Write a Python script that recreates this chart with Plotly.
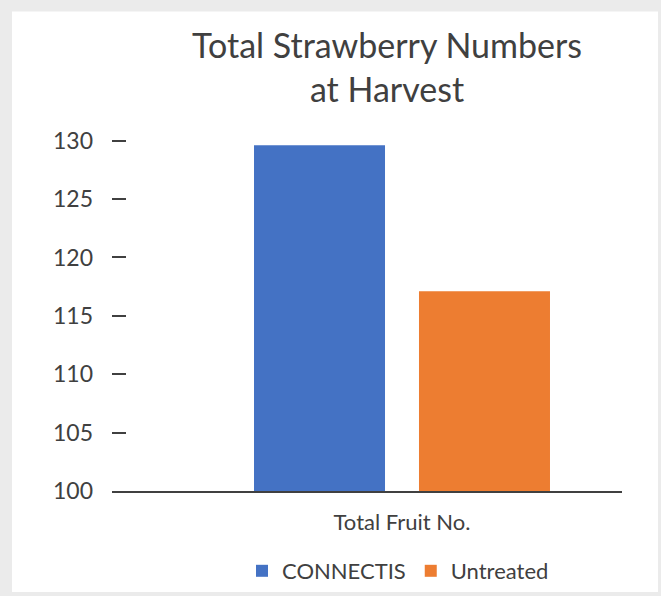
import plotly.graph_objects as go

categories = ["Total Fruit No."]
series_names = ["CONNECTIS", "Untreated"]
connectis = [129.6]
untreated = [117.1]
y_ticks = [100, 105, 110, 115, 120, 125, 130]
colors = ["#4472C4", "#ED7D31"]

W, H = 661, 596
Y_MAX = 131
L, R, B = 112, 39, 105
T = 491 - 350 * (Y_MAX - 100) / 30
FONT = "Lato"
TXT = "#404040"

fig = go.Figure()
for name, vals, col in zip(series_names, [connectis, untreated], colors):
    fig.add_trace(go.Bar(x=categories, y=vals, name=name, marker_color=col,
                         marker_line_width=0))

pw = W - L - R
ph = H - T - B
# white card over light gray border
fig.add_shape(type="rect", xref="paper", yref="paper",
              x0=(12 - L) / pw, x1=(658 - L) / pw,
              y0=(H - B - 592) / ph, y1=(H - B - 12) / ph,
              fillcolor="white", line_width=0, layer="below")

fig.update_layout(
    width=W, height=H,
    margin=dict(l=L, r=R, t=T, b=B, pad=0),
    paper_bgcolor="#EBEBEB", plot_bgcolor="white",
    font=dict(family=FONT, color=TXT),
    barmode="group", bargap=0.353, bargroupgap=0.206,
    title=dict(text="Total Strawberry Numbers<br>at Harvest",
               font=dict(size=34, color=TXT, family=FONT),
               x=387 / W, xanchor="center", xref="container",
               y=1 - 58 / H, yanchor="top", yref="container"),
    legend=dict(orientation="h", x=398 / W, xanchor="center", xref="container",
                y=1 - 571 / H, yanchor="middle", yref="container",
                font=dict(size=22, color=TXT, family=FONT),
                itemwidth=30, bgcolor="rgba(0,0,0,0)"),
    showlegend=True,
)
fig.update_xaxes(type="category", range=[-290 / pw, 1 - 290 / pw],
                 showline=True, linecolor="#404040", linewidth=2,
                 showgrid=False, zeroline=False, ticks="",
                 tickfont=dict(size=22, color=TXT, family=FONT),
                 ticklabelstandoff=11, fixedrange=True)
fig.update_yaxes(range=[100, Y_MAX], tickvals=y_ticks,
                 showline=False, showgrid=False, zeroline=False,
                 ticks="inside", ticklen=14, tickwidth=2, tickcolor="#404040",
                 tickfont=dict(size=23, color=TXT, family=FONT),
                 ticklabelstandoff=18, fixedrange=True)

fig.write_html("out.html", config={"displayModeBar": False},
               post_script="document.body.style.margin='0';")
